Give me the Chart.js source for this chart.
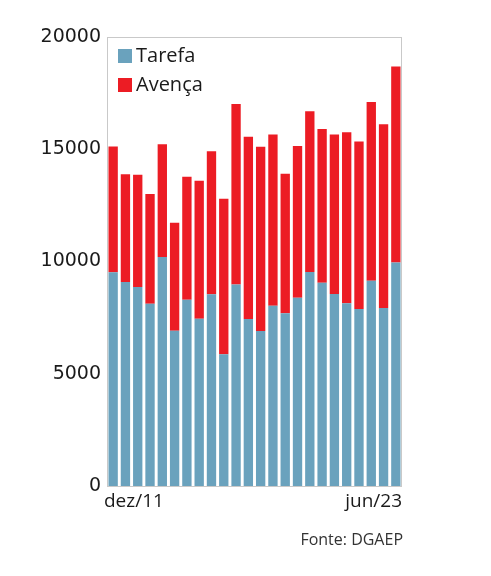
<!DOCTYPE html>
<html>
<head>
<meta charset="utf-8">
<script src="https://cdn.jsdelivr.net/npm/chart.js@4"></script>
<style>
  body { margin: 0; background: #fff; }
  #wrap { width: 491px; height: 576px; }
</style>
</head>
<body>
<div id="wrap"><canvas id="myChart"></canvas></div>
<script>
/* semestres, de dez/11 a jun/23 */
var periodos = ['dez/11', 'jun/12', 'dez/12', 'jun/13', 'dez/13', 'jun/14', 'dez/14', 'jun/15',
                'dez/15', 'jun/16', 'dez/16', 'jun/17', 'dez/17', 'jun/18', 'dez/18', 'jun/19',
                'dez/19', 'jun/20', 'dez/20', 'jun/21', 'dez/21', 'jun/22', 'dez/22', 'jun/23'];

var tarefa = [9520, 9090, 8860, 8120, 10200, 6920, 8300, 7450, 8540, 5870, 8970, 7440,
              6900, 8030, 7700, 8390, 9530, 9050, 8550, 8140, 7880, 9140, 7930, 9960];

var avenca = [5600, 4800, 5000, 4890, 5020, 4810, 5480, 6150, 6370, 6920, 8050, 8120,
              8210, 7630, 6210, 6760, 7160, 6850, 7110, 7620, 7470, 7970, 8180, 8730];

var yTicks = [0, 5000, 10000, 15000, 20000];

var fonte = 'Fonte: DGAEP';

/* moldura, legenda dentro do grafico, labels do eixo x e a fonte */
var extras = {
    id: 'extras',
    beforeDatasetsDraw: function(chart) {
        var a = chart.chartArea;
        var c = chart.ctx;
        c.save();
        c.strokeStyle = '#c9c9c9';
        c.lineWidth = 1;
        c.strokeRect(a.left + 0.5, a.top + 0.5, a.right - a.left - 1, a.bottom - a.top);
        c.restore();
    },
    afterDraw: function(chart) {
        var a = chart.chartArea;
        var c = chart.ctx;
        var labels = chart.data.labels;
        c.save();

        // legenda
        c.font = '20px "Open Sans"';
        c.textBaseline = 'middle';
        c.textAlign = 'left';
        chart.data.datasets.forEach(function(ds, i) {
            var y = a.top + 12 + i * 29;
            c.fillStyle = ds.backgroundColor;
            c.fillRect(a.left + 11, y, 14, 14);
            c.fillStyle = '#1a1a1a';
            c.fillText(ds.label, a.left + 29, y + 7);
        });

        c.fillStyle = '#1a1a1a';
        c.font = '19px "Open Sans"';
        c.textBaseline = 'alphabetic';
        c.textAlign = 'left';
        c.fillText(labels[0], a.left - 3, 507);
        c.textAlign = 'right';
        c.fillText(labels[labels.length - 1], a.right, 507);
        c.font = '16px "Open Sans"';
        c.fillStyle = '#333';
        c.fillText(fonte, a.right + 1, 545);
        c.restore();
    }
};

var ctx = document.getElementById('myChart');

var myChart = new Chart(ctx, {
    type: 'bar',
    data: {
        labels: periodos,
        datasets: [{
            label: 'Tarefa',
            data: tarefa,
            backgroundColor: '#6aa2bd',
            barPercentage: 0.76,
            categoryPercentage: 1
        }, {
            label: 'Avença',
            data: avenca,
            backgroundColor: '#ec1c24',
            barPercentage: 0.76,
            categoryPercentage: 1
        }]
    },
    options: {
        responsive: true,
        maintainAspectRatio: false,
        animation: false,
        layout: {
            padding: { left: 0, top: 37, right: 89, bottom: 90 }
        },
        scales: {
            x: {
                stacked: true,
                grid: { display: false },
                border: { display: false },
                ticks: { display: false },
                afterFit: function(s) { s.height = 0; }
            },
            y: {
                stacked: true,
                min: 0,
                max: 20000,
                grid: { display: false, drawTicks: false },
                border: { display: false },
                afterFit: function(s) { s.width = 107; },
                afterBuildTicks: function(s) {
                    s.ticks = yTicks.map(function(v) { return { value: v }; });
                },
                ticks: {
                    padding: 6,
                    color: '#1a1a1a',
                    font: { family: 'DejaVu Sans', size: 19 },
                    callback: function(v) { return v; }
                }
            }
        },
        plugins: {
            legend: { display: false },
            tooltip: { enabled: false }
        }
    },
    plugins: [extras]
});
</script>
</body>
</html>
